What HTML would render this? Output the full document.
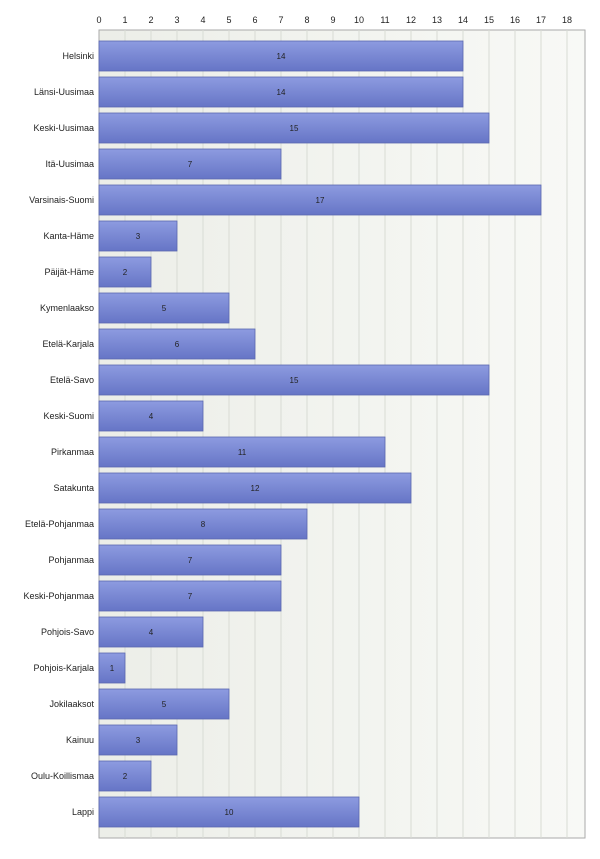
<!DOCTYPE html>
<html><head><meta charset="utf-8"><style>
body{margin:0;background:#fff;width:600px;height:854px;overflow:hidden;font-family:"Liberation Sans",sans-serif}
svg text{font-family:"Liberation Sans",sans-serif;font-size:9px;fill:#222}
</style></head><body>
<svg id="c" width="600" height="854">
<defs>
<linearGradient id="bg" x1="0" y1="0" x2="1" y2="0"><stop offset="0" stop-color="#eceee8"/><stop offset="1" stop-color="#f8f9f6"/></linearGradient>
<linearGradient id="bar" x1="0" y1="0" x2="0" y2="1"><stop offset="0" stop-color="#8d9be0"/><stop offset="1" stop-color="#6675c6"/></linearGradient>
</defs>
<rect x="99" y="30" width="486" height="808" fill="url(#bg)" stroke="#aaa"/>
<g id="grid"></g><g id="bars"></g><g id="labels"></g>
</svg>
<script>
const categories=["Helsinki","Länsi-Uusimaa","Keski-Uusimaa","Itä-Uusimaa","Varsinais-Suomi","Kanta-Häme","Päijät-Häme","Kymenlaakso","Etelä-Karjala","Etelä-Savo","Keski-Suomi","Pirkanmaa","Satakunta","Etelä-Pohjanmaa","Pohjanmaa","Keski-Pohjanmaa","Pohjois-Savo","Pohjois-Karjala","Jokilaaksot","Kainuu","Oulu-Koillismaa","Lappi"];
const values=[14,14,15,7,17,3,2,5,6,15,4,11,12,8,7,7,4,1,5,3,2,10];
const ticks=[0,1,2,3,4,5,6,7,8,9,10,11,12,13,14,15,16,17,18];
const NS="http://www.w3.org/2000/svg";
const x=v=>99+v*26;
const y=i=>41+i*36;
function mk(t,a,p){const e=document.createElementNS(NS,t);for(const k in a)e.setAttribute(k,a[k]);p.appendChild(e);return e;}
const g=document.getElementById('grid'),b=document.getElementById('bars'),l=document.getElementById('labels');
ticks.forEach(t=>{
 if(t>0){const ln=mk('line',{x1:x(t),x2:x(t),y1:30,y2:838,stroke:'#d8dbd4'},g);
 
 }
 const tx=mk('text',{x:x(t),y:23,'text-anchor':'middle'},g);tx.textContent=t;
 
 
});
categories.forEach((c,i)=>{
 const r=mk('rect',{x:x(0),y:y(i),width:x(values[i])-x(0),height:30,fill:'url(#bar)',stroke:'#5a67b0','stroke-width':0.8},b);
 
 
 const v=mk('text',{x:(x(0)+x(values[i]))/2,y:y(i)+18,'text-anchor':'middle',style:'font-size:8px'},b);v.textContent=values[i];
 
 
 const t=mk('text',{x:94,y:y(i)+18,'text-anchor':'end'},l);t.textContent=c;
 
 
});
</script>
</body></html>
